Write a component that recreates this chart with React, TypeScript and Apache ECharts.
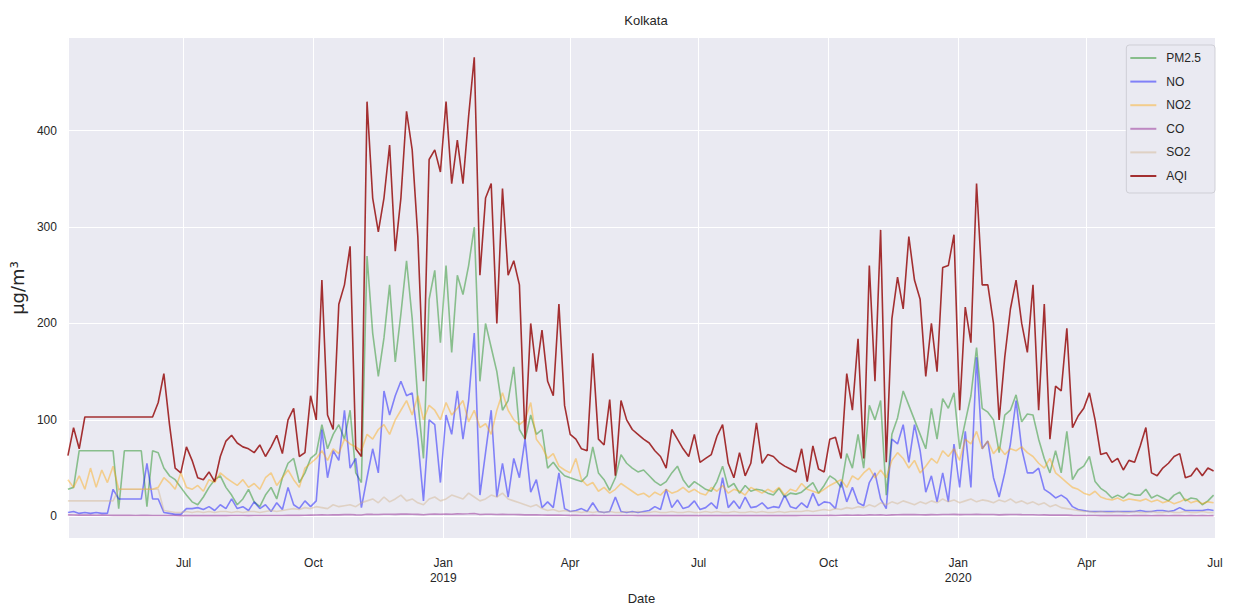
import React, { useEffect, useRef } from "react";
import * as echarts from "echarts";

// ---- data (one value every 4 days from 2018-04-10) ----
const START_Y = 2018;
const START_M = 3; // April (0-based)
const START_D = 10;
const STEP_DAYS = 4;
const X_MIN_DATE = [2018, 3, 10];
const X_MAX_DATE = [2020, 6, 1];
const Y_MIN = -22.5;
const Y_MAX = 496;
const Y_TICKS = [0, 100, 200, 300, 400];
const MONTHS = ["Jan", "Feb", "Mar", "Apr", "May", "Jun", "Jul", "Aug", "Sep", "Oct", "Nov", "Dec"];
const SERIES_NAMES = ["PM2.5", "NO", "NO2", "CO", "SO2", "AQI"];

const pm25 = [
  28, 30, 68, 68, 68, 68, 68, 68, 68, 8,
  68, 68, 68, 68, 10, 68, 66, 50, 42, 38,
  30, 22, 15, 12, 20, 30, 38, 42, 30, 22,
  12, 18, 28, 15, 10, 22, 30, 18, 40, 55,
  60, 35, 45, 60, 65, 95, 70, 85, 95, 80,
  110, 45, 35, 270, 190, 145, 185, 240, 160, 210,
  265, 205, 120, 60, 225, 255, 180, 260, 170, 250,
  230, 260, 300, 140, 200, 175, 150, 110, 120, 155,
  90, 80, 105, 85, 90, 50, 56, 48, 42, 40,
  38, 36, 42, 72, 45, 38, 27, 40, 64, 55,
  50, 46, 48, 42, 36, 32, 36, 45, 52, 38,
  30, 36, 32, 28, 26, 36, 52, 30, 34, 24,
  32, 26, 28, 27, 24, 22, 29, 20, 24, 23,
  25, 30, 35, 24, 32, 42, 38, 30, 65, 50,
  85, 50, 115, 100, 120, 22, 85, 102, 130, 115,
  100, 85, 70, 112, 80, 122, 112, 128, 70, 98,
  125, 175, 112, 108, 100, 66, 105, 110, 126, 98,
  106, 105, 80, 60, 45, 68, 45, 88, 38, 48,
  52, 62, 36, 29, 25, 19, 22, 19, 24, 22,
  22, 28, 19, 22, 19, 16, 22, 25, 16, 19,
  18, 12, 16, 22,
];

const no = [
  4, 5, 3, 4, 3, 4, 3, 3, 28, 18,
  18, 18, 18, 18, 55, 18, 18, 4, 3, 2,
  2, 8, 8, 9, 7, 10, 6, 12, 8, 18,
  8, 10, 6, 15, 8, 12, 5, 14, 7, 30,
  12, 8, 16, 10, 16, 90, 40, 68, 58, 110,
  50, 60, 9, 40, 70, 45, 130, 105, 125, 140,
  125, 128, 80, 16, 100, 95, 35, 105, 85, 130,
  80, 120, 190, 22, 66, 110, 20, 55, 20, 60,
  40, 80, 25, 38, 9, 15, 9, 45, 8, 5,
  6, 8, 5, 14, 5, 4, 5, 20, 5, 4,
  5, 4, 5, 6, 10, 7, 28, 9, 17, 8,
  10, 16, 7, 9, 14, 8, 40, 9, 16, 8,
  20, 9, 10, 14, 8, 10, 9, 22, 10, 8,
  14, 9, 24, 11, 15, 14, 8, 36, 15, 30,
  14, 11, 35, 45, 18, 8, 80, 75, 95, 56,
  95, 68, 25, 42, 15, 45, 15, 75, 30, 88,
  30, 165, 70, 78, 40, 20, 45, 75, 120, 70,
  45, 45, 50, 28, 24, 19, 22, 18, 10, 7,
  6, 5, 5, 5, 5, 5, 5, 5, 5, 5,
  6, 5, 5, 6, 6, 5, 6, 9, 6, 6,
  6, 6, 7, 6,
];

const no2 = [
  38, 30, 42, 28, 50, 30, 48, 35, 52, 28,
  28, 28, 28, 28, 28, 28, 30, 40, 35, 28,
  45, 30, 28, 32, 26, 38, 35, 45, 40, 36,
  32, 38, 30, 34, 28, 40, 45, 32, 40, 48,
  38, 30, 50, 55, 60, 68, 58, 70, 65, 80,
  75, 72, 68, 85, 80, 90, 95, 85, 100, 110,
  120, 105, 125, 100, 115, 110, 100, 118, 105, 112,
  120, 98, 110, 92, 96, 85, 110, 128, 110, 100,
  95, 100, 118, 80, 72, 60, 65, 52, 48, 45,
  60, 38, 32, 35, 26, 30, 24, 28, 34, 30,
  26, 22, 24, 20, 25, 22, 28, 24, 26, 30,
  25, 28, 24, 22, 30, 26, 32, 24, 28, 26,
  22, 30, 27, 24, 28, 25, 30, 22, 28, 26,
  34, 28, 26, 24, 28, 32, 35, 38, 30, 42,
  38, 45, 50, 40, 48, 40, 58, 66, 60, 50,
  58, 45, 52, 60, 55, 68, 62, 70, 58, 80,
  75, 88, 70, 78, 65, 72, 64, 70, 68, 72,
  66, 62, 55, 50, 60, 45, 40, 35, 30, 28,
  24, 22, 26, 20, 18, 17, 19, 16, 18, 17,
  16, 18, 15, 17, 14, 16, 13, 15, 18, 14,
  16, 13, 15, 14,
];

const co = [
  1.5, 1.4, 1.2, 1.3, 1.2, 1.1, 1.2, 1.1, 1.0, 1.1,
  1.0, 1.0, 0.9, 1.0, 1.0, 0.9, 0.9, 0.8, 0.8, 0.8,
  0.7, 0.8, 0.7, 0.7, 0.8, 0.7, 0.7, 0.8, 0.7, 0.8,
  0.8, 0.8, 0.7, 0.8, 0.8, 0.9, 0.8, 0.9, 0.9, 1.0,
  1.0, 1.0, 1.1, 1.2, 1.3, 1.5, 1.4, 1.6, 1.5, 1.7,
  1.8, 1.5, 1.4, 2.2, 2.0, 1.9, 2.1, 2.2, 2.0, 2.3,
  2.4, 2.2, 2.0, 1.6, 2.1, 2.3, 2.2, 2.4, 2.2, 2.5,
  2.4, 2.6, 2.9, 1.9, 2.1, 2.2, 1.8, 2.0, 1.9, 1.8,
  1.7, 1.5, 1.6, 1.5, 1.4, 1.2, 1.2, 1.3, 1.1, 1.0,
  1.0, 0.9, 0.9, 1.0, 0.9, 0.8, 0.9, 0.8, 0.8, 0.8,
  0.8, 0.7, 0.7, 0.8, 0.7, 0.7, 0.8, 0.7, 0.7, 0.7,
  0.7, 0.8, 0.7, 0.7, 0.8, 0.7, 0.8, 0.7, 0.7, 0.7,
  0.7, 0.7, 0.8, 0.7, 0.7, 0.7, 0.8, 0.7, 0.8, 0.7,
  0.8, 0.8, 0.9, 0.8, 0.9, 1.0, 0.9, 1.1, 1.2, 1.1,
  1.3, 1.1, 1.5, 1.4, 1.6, 1.1, 1.5, 1.6, 1.7, 1.8,
  1.7, 1.6, 1.5, 1.7, 1.6, 1.9, 1.8, 2.0, 1.7, 1.9,
  1.8, 2.2, 1.9, 1.9, 1.8, 1.5, 1.7, 1.8, 1.9, 1.7,
  1.6, 1.6, 1.4, 1.5, 1.2, 1.3, 1.2, 1.2, 1.0, 0.9,
  0.8, 0.8, 0.8, 0.7, 0.7, 0.7, 0.7, 0.7, 0.6, 0.7,
  0.7, 0.7, 0.6, 0.7, 0.7, 0.6, 0.7, 0.7, 0.6, 0.7,
  0.6, 0.7, 0.6, 0.7,
];

const so2 = [
  16, 16, 16, 16, 16, 16, 16, 16, 16, 28,
  28, 28, 28, 28, 28, 28, 28, 6, 5, 4,
  4, 5, 4, 5, 4, 5, 4, 5, 5, 4,
  5, 4, 5, 5, 4, 5, 6, 5, 6, 7,
  8, 7, 9, 8, 10, 9, 8, 12, 10, 11,
  12, 10, 14, 16, 18, 14, 20, 15, 18, 22,
  16, 18, 14, 12, 18, 20, 16, 18, 22, 20,
  18, 24, 20, 16, 18, 22, 20, 24, 18, 16,
  14, 12, 10, 12, 8, 6, 7, 5, 6, 5,
  5, 4, 5, 4, 5, 4, 5, 4, 4, 5,
  4, 5, 4, 4, 5, 4, 4, 5, 4, 4,
  5, 4, 4, 5, 4, 5, 4, 4, 5, 4,
  4, 5, 4, 5, 4, 4, 5, 4, 5, 5,
  5, 6, 5, 6, 7, 6, 8, 7, 9, 8,
  10, 9, 12, 10, 14, 12, 15, 13, 16, 14,
  12, 15, 13, 16, 14, 18, 15, 17, 14, 16,
  18, 15, 17, 16, 14, 17, 15, 18, 14, 16,
  13, 15, 12, 14, 10, 12, 9, 8, 7, 6,
  5, 5, 4, 5, 4, 4, 5, 4, 4, 5,
  4, 4, 5, 4, 4, 5, 4, 4, 5, 4,
  4, 5, 4, 4,
];

const aqi = [
  63, 92, 70, 103, 103, 103, 103, 103, 103, 103,
  103, 103, 103, 103, 103, 103, 118, 148, 95, 50,
  45, 72, 58, 40, 38, 46, 36, 62, 78, 84,
  76, 72, 70, 66, 74, 62, 72, 84, 65, 100,
  112, 62, 66, 125, 100, 245, 105, 90, 220, 240,
  280, 70, 62, 430, 330, 295, 330, 385, 275, 330,
  420, 380, 290, 140, 370, 380, 357, 430, 345, 390,
  345, 415, 476, 250, 330, 345, 200, 340, 250, 265,
  240, 80, 200, 150, 193, 140, 125, 220, 115, 85,
  80, 70, 68, 169, 80, 74, 121, 42, 120, 100,
  90, 85, 80, 76, 68, 62, 50, 90, 80, 70,
  62, 85, 56, 60, 64, 83, 95, 55, 40, 66,
  42, 55, 97, 55, 64, 62, 56, 52, 49, 46,
  70, 36, 73, 49, 46, 80, 82, 60, 148, 110,
  184, 60, 260, 140, 297, 56, 205, 248, 215, 290,
  245, 225, 145, 200, 150, 258, 260, 292, 110, 217,
  180, 345, 240, 240, 200, 100, 165, 215, 245, 200,
  170, 240, 110, 220, 80, 135, 130, 195, 92, 104,
  112, 128, 100, 64, 66, 56, 60, 48, 58, 56,
  73, 92, 45, 42, 50, 55, 62, 65, 40, 42,
  50, 42, 50, 47,
];

const SERIES_VALUES = [pm25, no, no2, co, so2, aqi];
const SERIES_COLORS = [
  "rgba(0,128,0,0.42)",
  "rgba(0,0,255,0.45)",
  "rgba(255,165,0,0.42)",
  "rgba(128,0,128,0.42)",
  "rgba(210,180,140,0.45)",
  "rgba(145,0,0,0.8)",
];

const FONT = "'Liberation Sans', Arial, sans-serif";
const MATH_FONT = "'DejaVu Sans', sans-serif";
const TEXT = "#262626";

function dateAt(i: number): number {
  return new Date(START_Y, START_M, START_D + STEP_DAYS * i).getTime();
}

export default function App() {
  const ref = useRef<HTMLDivElement>(null);

  useEffect(() => {
    if (!ref.current) return;
    const chart = echarts.init(ref.current, null, { renderer: "svg" });

    const series: any[] = SERIES_NAMES.map((name, k) => ({
      type: "line",
      name,
      data: SERIES_VALUES[k].map((v, i) => [dateAt(i), v]),
      showSymbol: false,
      symbol: "none",
      color: SERIES_COLORS[k],
      lineStyle: { width: 1.6, color: SERIES_COLORS[k] },
      z: 3 + k,
      silent: true,
    }));

    series.push({
      type: "line",
      name: "gridlines",
      data: [],
      silent: true,
      z: 1,
      markLine: {
        silent: true,
        z: 1,
        symbol: "none",
        label: { show: false },
        lineStyle: { color: "#ffffff", width: 1, type: "solid" },
        data: Y_TICKS.map((v) => ({ yAxis: v })),
        animation: false,
      },
    });

    chart.setOption({
      animation: false,
      backgroundColor: "#ffffff",
      textStyle: { fontFamily: FONT },
      title: {
        text: "Kolkata",
        left: 641,
        top: 9,
        textAlign: "center",
        textStyle: { fontSize: 13, fontWeight: "normal", color: TEXT, fontFamily: FONT },
      },
      grid: {
        left: 67,
        right: 18,
        top: 38,
        bottom: 67,
        show: true,
        backgroundColor: "#EAEAF2",
        borderWidth: 0,
        containLabel: false,
      },
      legend: {
        data: SERIES_NAMES,
        orient: "vertical",
        right: 18,
        top: 45,
        itemWidth: 26,
        itemHeight: 14,
        itemGap: 9.6,
        padding: [6, 14, 10, 4],
        backgroundColor: "#EAEAF2",
        borderColor: "#cfcfd6",
        borderWidth: 1,
        borderRadius: 3,
        textStyle: {
          fontSize: 12,
          lineHeight: 14,
          color: TEXT,
          fontFamily: FONT,
          padding: [0, 0, 0, 5],
        },
        icon: "path://M0,6 L26,6 L26,8 L0,8 Z",
      },
      xAxis: {
        type: "time",
        min: new Date(X_MIN_DATE[0], X_MIN_DATE[1], X_MIN_DATE[2]).getTime(),
        max: new Date(X_MAX_DATE[0], X_MAX_DATE[1], X_MAX_DATE[2]).getTime(),
        minInterval: 80 * 86400000,
        maxInterval: 100 * 86400000,
        splitNumber: 9,
        name: "Date",
        nameLocation: "middle",
        nameGap: 54,
        nameTextStyle: { fontSize: 13, color: TEXT, fontFamily: FONT },
        axisLine: { show: false },
        axisTick: { show: false },
        splitLine: { show: true, lineStyle: { color: "#ffffff", width: 1 } },
        axisLabel: {
          color: TEXT,
          fontSize: 12,
          margin: 17,
          lineHeight: 15,
          fontFamily: FONT,
          showMinLabel: false,
          formatter: (val: number) => {
            const d = new Date(val);
            if (d.getDate() !== 1) return "";
            const m = d.getMonth();
            if (m % 3 !== 0) return "";
            return m === 0 ? `Jan\n${d.getFullYear()}` : MONTHS[m];
          },
        },
      },
      yAxis: {
        type: "value",
        min: Y_MIN,
        max: Y_MAX,
        name: "μg/m³",
        nameLocation: "middle",
        nameGap: 35,
        nameRotate: 90,
        nameTextStyle: { fontSize: 18, color: TEXT, fontFamily: MATH_FONT },
        axisLine: { show: false },
        axisTick: { show: false, customValues: Y_TICKS },
        splitLine: { show: false },
        axisLabel: {
          color: TEXT,
          fontSize: 12,
          margin: 11,
          fontFamily: FONT,
          customValues: Y_TICKS,
        },
      },
      series,
    });

    return () => {
      chart.dispose();
    };
  }, []);

  return (
    <div
      ref={ref}
      style={{ position: "fixed", left: 0, top: 0, width: 1233, height: 610 }}
    />
  );
}
